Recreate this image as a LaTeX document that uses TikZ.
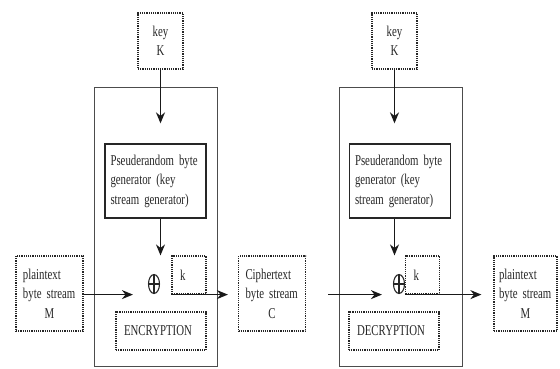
\documentclass[tikz,border=0pt]{standalone}
\usepackage{fontspec}
\setmainfont{Liberation Serif}[FakeStretch=0.72]
\usetikzlibrary{arrows.meta,shapes.geometric}
\begin{document}
\begin{tikzpicture}[x=1pt,y=-1pt,
  every node/.style={font=\fontsize{15}{19.5}\selectfont, text=black!85},
  dotbox/.style={draw=black!85, densely dotted, line width=1.2pt, inner sep=0pt},
  outerbox/.style={draw=black!70, line width=0.9pt, inner sep=0pt},
  genbox/.style={draw=black!85, line width=1.3pt, inner sep=0pt, minimum width=101, minimum height=74, text width=90, align=left},
  streambox/.style={dotbox, minimum width=67, minimum height=75, text width=53, align=left},
  keybox/.style={dotbox, minimum width=45, minimum height=56, align=center},
  kbox/.style={dotbox, minimum width=34, minimum height=38, text width=18, align=left},
  modebox/.style={dotbox, minimum width=90, minimum height=38},
  xorsym/.style={ellipse, draw=black!85, line width=1.1pt, minimum width=11, minimum height=19, inner sep=0pt},
  arr/.style={-{Stealth[length=11pt,width=9pt]}, line width=1.5pt, draw=black!90},
]
\useasboundingbox (0,0) rectangle (560,368);
% outer boxes
\node[outerbox, minimum width=123, minimum height=279] (encL) at (155.5,226.5) {};
\node[outerbox, minimum width=123, minimum height=279] (decR) at (400.5,226.5) {};
% key boxes
\node[keybox] (keyL) at (160.5,41) {key\\K};
\node[keybox] (keyR) at (394.5,41) {key\\K};
% generators
\node[genbox] (prngL) at (155.5,181) {Pseuderandom byte\\generator (key\\stream generator)};
\node[genbox] (prngR) at (400,181) {Pseuderandom byte\\generator (key\\stream generator)};
% xor
\node[xorsym] (xorL) at (154,284) {};
\draw[line width=1.1pt, black!85] (xorL.north) -- (xorL.south) (xorL.west) -- (xorL.east);
\node[xorsym] (xorR) at (399,284) {};
\draw[line width=1.1pt, black!85] (xorR.north) -- (xorR.south) (xorR.west) -- (xorR.east);
% k boxes
\node[kbox] (kL) at (189,275) {k};
\node[kbox] (kR) at (422.5,275) {k};
% stream boxes
\node[streambox] (plainL) at (49.5,293.5) {plaintext\\byte stream\\\hspace*{\fill}M\hspace*{\fill}};
\node[streambox] (ciph) at (272,293.5) {Ciphertext\\byte stream\\\hspace*{\fill}C\hspace*{\fill}};
\node[streambox, minimum width=63] (plainR) at (525.5,293.5) {plaintext\\byte stream\\\hspace*{\fill}M\hspace*{\fill}};
% mode boxes
\node[modebox] (encT) at (161,331) {\hspace*{-6pt}ENCRYPTION};
\node[modebox] (decT) at (394,331) {\hspace*{-6pt}DECRYPTION};
% arrows
\draw[arr, shorten >=20pt] (keyL.south) -- (keyL.south |- prngL.north);
\draw[arr, shorten >=20pt] (keyR.south) -- (keyR.south |- prngR.north);
\draw[arr] (keyL.south |- prngL.south) -- (keyL.south |- kL.north);
\draw[arr] (keyR.south |- prngR.south) -- (keyR.south |- kR.north);
\draw[arr, shorten >=15pt] (plainL.east |- kL.south) -- (xorL.west |- kL.south);
\draw[arr, shorten >=10pt] (kL.south west) -- (ciph.west |- kL.south);
\draw[arr, shorten <=22pt, shorten >=11pt] (ciph.east |- kR.south) -- (xorR.west |- kR.south);
\draw[arr, shorten >=12pt] (kR.south west) -- (plainR.west |- kR.south);
\end{tikzpicture}
\end{document}
